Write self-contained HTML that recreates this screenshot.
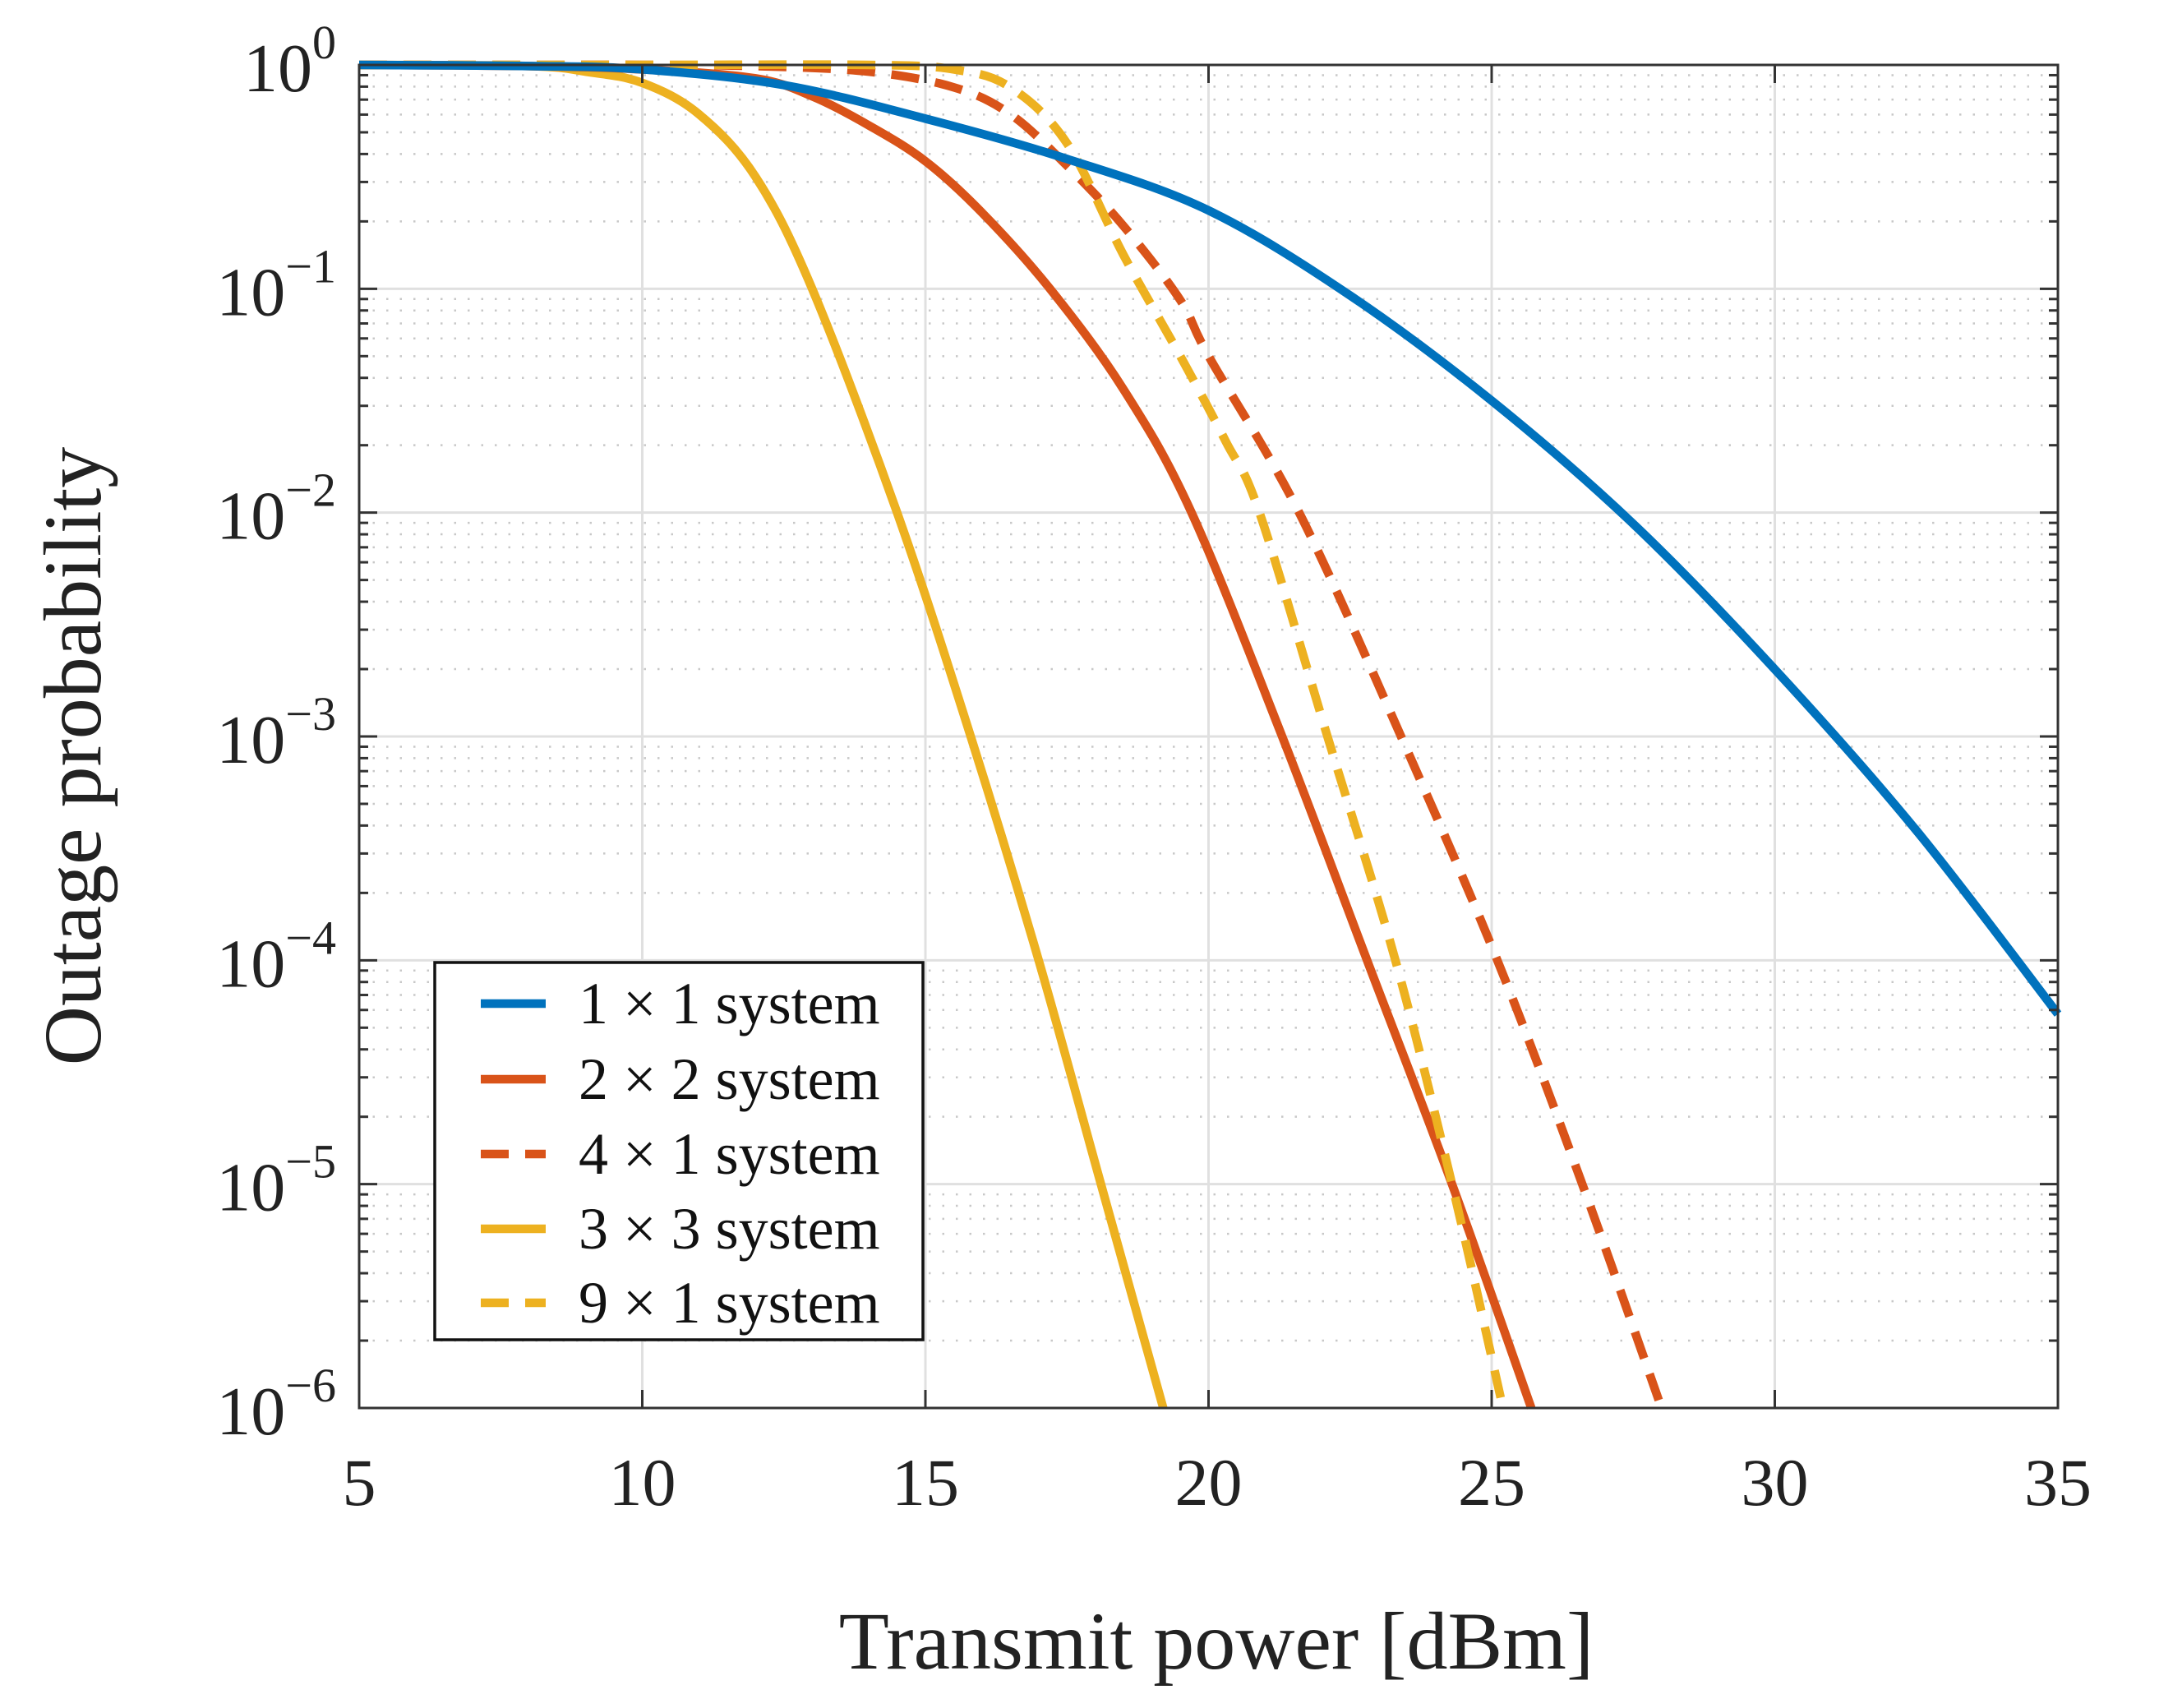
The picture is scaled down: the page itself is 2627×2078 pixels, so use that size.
<!DOCTYPE html>
<html><head><meta charset="utf-8"><style>
html,body{margin:0;padding:0;background:#fff;}
svg{display:block;font-family:"Liberation Serif",serif;}
</style></head><body>
<svg id="chart" width="2627" height="2078" viewBox="0 0 2627 2078">
<g id="grid"></g>
<g id="series"></g>
<g id="axes"></g>
<text x="1480" y="2030" font-size="100" text-anchor="middle" fill="#222">Transmit power [dBm]</text>
<text transform="translate(122,920) rotate(-90)" font-size="100" text-anchor="middle" fill="#222">Outage probability</text>
<g id="legend"></g>
</svg>
<script>
const xTicks=[5,10,15,20,25,30,35];
const yExps=[0,-1,-2,-3,-4,-5,-6];
const seriesNames=["1 \u00d7 1 system","2 \u00d7 2 system","4 \u00d7 1 system","3 \u00d7 3 system","9 \u00d7 1 system"];
const s1x=[5,8,10,12.5,15,17.5,20,22.5,25,27.5,30,32.5,35];
const s1y=[0,-0.005,-0.02,-0.09,-0.24,-0.42,-0.65,-1.03,-1.5,-2.05,-2.7,-3.42,-4.24];
const s2x=[5,8,10,12,13,14,15,16,17.2,18.5,19.7,21.3,22.8,24.3,25.7];
const s2y=[0,-0.005,-0.02,-0.06,-0.14,-0.27,-0.43,-0.66,-1,-1.45,-2,-3,-4,-5,-6];
const s3x=[5,8,10,12,14,15.5,16.5,17.5,18.5,19.5,20,21.6,23.4,25.1,26.6,28];
const s3y=[0,0,0,-0.005,-0.03,-0.1,-0.22,-0.45,-0.72,-1.05,-1.3,-2,-3,-4,-5,-6];
const s4x=[5,8,9,10,11,12,13,14.5,15.8,17,18.1,19.2];
const s4y=[0,-0.005,-0.03,-0.08,-0.22,-0.5,-1,-2,-3,-4,-5,-6];
const s5x=[5,10,14,15.5,16.5,17.5,18.5,19.5,20.3,20.9,22.1,23.3,24.3,25.2];
const s5y=[0,0,0,-0.02,-0.1,-0.35,-0.85,-1.3,-1.68,-2,-3,-4,-5,-6];
const colors=["#0072BD","#D95319","#D95319","#EDB120","#EDB120"];
const dashed=[false,false,true,false,true];

const L=437,R=2504,T=79,B=1713;
const xs=v=>L+(v-5)/30*(R-L);
const ys=e=>T+(-e)/6*(B-T);
const NS="http://www.w3.org/2000/svg";
function mk(tag,parent){const e=document.createElementNS(NS,tag);parent.appendChild(e);return e;}
const grid=document.getElementById('grid'),axes=document.getElementById('axes'),ser=document.getElementById('series'),leg=document.getElementById('legend');

for(let d=0;d<6;d++){for(let k=2;k<=9;k++){
 const yy=ys(-d-1+Math.log10(k));
 const l=mk('line',grid);
 
 
 l.setAttribute('x1',L);l.setAttribute('x2',R);l.setAttribute('y1',yy);l.setAttribute('y2',yy);
 l.setAttribute('stroke','#c8c8c8');l.setAttribute('stroke-width','2.5');l.setAttribute('stroke-dasharray','2.5 14');
 for(const xx of [L,R]){const t=mk('line',axes);
  
  
  t.setAttribute('x1',xx);t.setAttribute('x2',xx===L?xx+11:xx-11);t.setAttribute('y1',yy);t.setAttribute('y2',yy);t.setAttribute('stroke','#333');t.setAttribute('stroke-width','3');}
}}
yExps.forEach(e=>{const yy=ys(e);const l=mk('line',grid);
 
 
 l.setAttribute('x1',L);l.setAttribute('x2',R);l.setAttribute('y1',yy);l.setAttribute('y2',yy);l.setAttribute('stroke','#e0e0e0');l.setAttribute('stroke-width','3');
 const t=mk('text',axes);
 
 
 t.setAttribute('x',L-28);t.setAttribute('y',yy+32);t.setAttribute('text-anchor','end');t.setAttribute('font-size','84');t.setAttribute('fill','#222');
 t.innerHTML='10<tspan dy="-40" font-size="58">'+(e===0?'0':'\u2212'+(-e))+'</tspan>';
 for(const xx of [L,R]){const k=mk('line',axes);
  
  
  k.setAttribute('x1',xx);k.setAttribute('x2',xx===L?xx+22:xx-22);k.setAttribute('y1',yy);k.setAttribute('y2',yy);k.setAttribute('stroke','#333');k.setAttribute('stroke-width','3');}
});
xTicks.forEach(v=>{const xx=xs(v);const l=mk('line',grid);
 
 
 l.setAttribute('x1',xx);l.setAttribute('x2',xx);l.setAttribute('y1',T);l.setAttribute('y2',B);l.setAttribute('stroke','#e0e0e0');l.setAttribute('stroke-width','3');
 const t=mk('text',axes);
 
 
 t.setAttribute('x',xx);t.setAttribute('y',B+118);t.setAttribute('text-anchor','middle');t.setAttribute('font-size','82');t.setAttribute('fill','#222');t.textContent=v;
 for(const yy of [T,B]){const k=mk('line',axes);
  
  
  k.setAttribute('x1',xx);k.setAttribute('x2',xx);k.setAttribute('y1',yy);k.setAttribute('y2',yy===B?yy-22:yy+22);k.setAttribute('stroke','#333');k.setAttribute('stroke-width','3');}
});
const box=mk('rect',axes);


box.setAttribute('x',L);box.setAttribute('y',T);box.setAttribute('width',R-L);box.setAttribute('height',B-T);box.setAttribute('fill','none');box.setAttribute('stroke','#333');box.setAttribute('stroke-width','3');

function pathFrom(X,Y){const p=X.map((v,i)=>[xs(v),ys(Y[i])]);
 let d='M'+p[0][0]+','+p[0][1];
 for(let i=0;i<p.length-1;i++){const p0=p[Math.max(i-1,0)],p1=p[i],p2=p[i+1],p3=p[Math.min(i+2,p.length-1)];
  const c1=[p1[0]+(p2[0]-p0[0])/6,p1[1]+(p2[1]-p0[1])/6],c2=[p2[0]-(p3[0]-p1[0])/6,p2[1]-(p3[1]-p1[1])/6];
  d+=' C'+c1+' '+c2+' '+p2;}
 return d;}
const allX=[s1x,s2x,s3x,s4x,s5x],allY=[s1y,s2y,s3y,s4y,s5y];
const names=['series-1x1','series-2x2','series-4x1','series-3x3','series-9x1'];
[3,1,2,4,0].forEach(i=>{const p=mk('path',ser);
 
 
 p.setAttribute('d',pathFrom(allX[i],allY[i]));p.setAttribute('fill','none');p.setAttribute('stroke',colors[i]);p.setAttribute('stroke-width','10.5');
 if(dashed[i])p.setAttribute('stroke-dasharray','34 20');
});

const lb=mk('rect',leg);


lb.setAttribute('x',529);lb.setAttribute('y',1171);lb.setAttribute('width',594);lb.setAttribute('height',459);lb.setAttribute('fill','#fff');lb.setAttribute('stroke','#111');lb.setAttribute('stroke-width','3.5');
const legY=[1221,1313,1404,1495,1585];
seriesNames.forEach((n,i)=>{
 const l=mk('line',leg);
 
 
 l.setAttribute('x1',585);l.setAttribute('x2',664);l.setAttribute('y1',legY[i]);l.setAttribute('y2',legY[i]);l.setAttribute('stroke',colors[i]);l.setAttribute('stroke-width','10.5');
 if(dashed[i])l.setAttribute('stroke-dasharray','34 20');
 const t=mk('text',leg);
 
 
 t.setAttribute('x',704);t.setAttribute('y',legY[i]+24);t.setAttribute('font-size','72');t.setAttribute('fill','#111');t.textContent=n;
});
</script>
</body></html>
